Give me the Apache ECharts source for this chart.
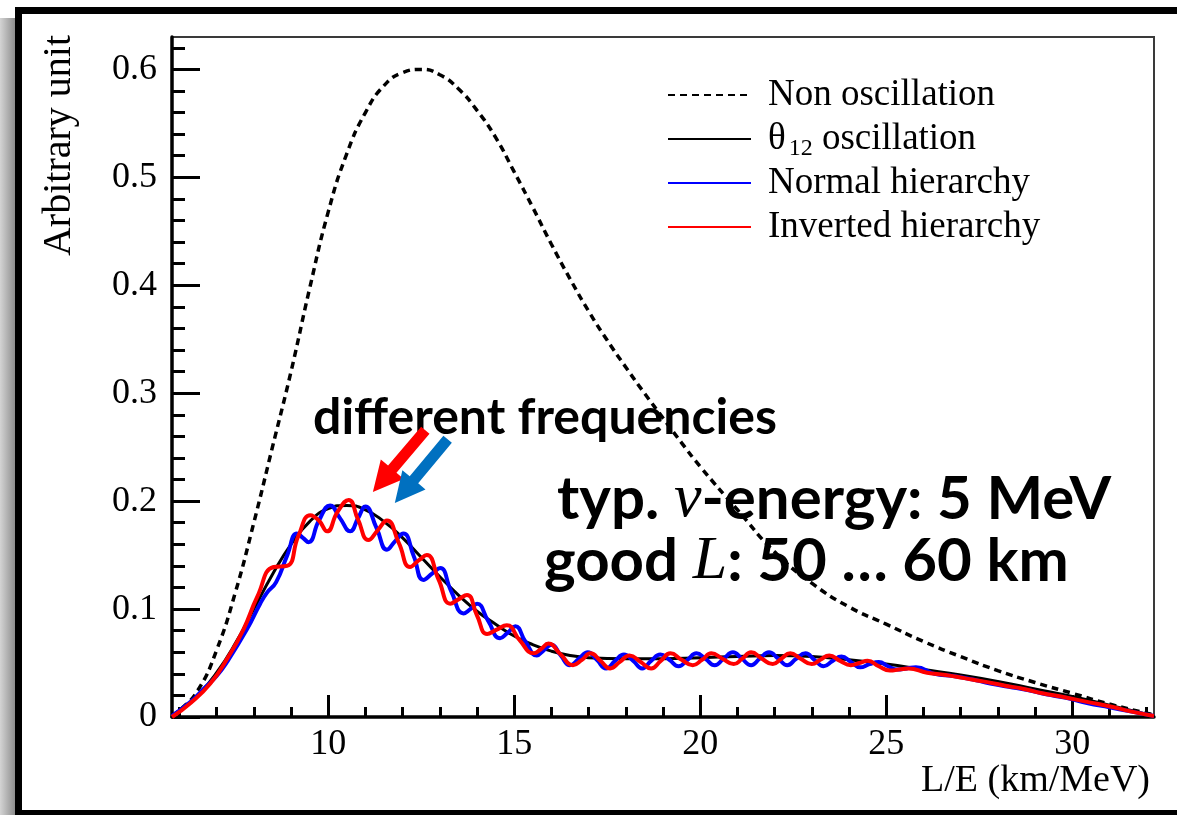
<!DOCTYPE html>
<html>
<head>
<meta charset="utf-8">
<script src="https://cdn.jsdelivr.net/npm/echarts@6.0.0/dist/echarts.min.js"></script>
<style>
html,body{margin:0;padding:0;background:#fff;}
#chart{width:1177px;height:815px;}
</style>
</head>
<body>
<div id="chart"></div>
<script>
// ---------------- data ----------------
const seriesNames = ['Non oscillation', 'θ₁₂ oscillation', 'Normal hierarchy', 'Inverted hierarchy'];
const xMajorTicks = [10, 15, 20, 25, 30];
const xMinorTicks = [6, 7, 8, 9, 11, 12, 13, 14, 16, 17, 18, 19, 21, 22, 23, 24, 26, 27, 28, 29, 31, 32];
const yMajorTicks = [0, 0.1, 0.2, 0.3, 0.4, 0.5, 0.6];
const yMinorTicks = [0.02, 0.04, 0.06, 0.08, 0.12, 0.14, 0.16, 0.18, 0.22, 0.24, 0.26, 0.28, 0.32, 0.34, 0.36, 0.38, 0.42, 0.44, 0.46, 0.48, 0.52, 0.54, 0.56, 0.58, 0.62];
const xRange = [5.8, 32.2];
const yRange = [0, 0.63];

const nonOscillation = [
  [5.8,0.002],[6.0,0.006],[6.5,0.025],[7.0,0.062],[7.5,0.115],[8.0,0.18],[8.5,0.25],[9.0,0.32],
  [9.5,0.397],[10.0,0.468],[10.5,0.522],[11.0,0.56],[11.5,0.585],[12.0,0.597],[12.5,0.6],[13.0,0.595],
  [13.5,0.582],[14.0,0.562],[14.5,0.537],[15.0,0.505],[15.5,0.472],[16.0,0.438],[16.5,0.406],[17.0,0.376],
  [17.5,0.349],[18.0,0.324],[18.5,0.3],[19.0,0.277],[19.5,0.254],[20.0,0.232],[21.0,0.192],[22.0,0.153],
  [23.0,0.124],[24.0,0.102],[25.0,0.086],[26.0,0.07],[27.0,0.056],[28.0,0.043],[29.0,0.032],[30.0,0.022],
  [31.0,0.012],[32.2,0.002]
];

const theta12Oscillation = [
  [5.8,0.001],[6.0,0.005],[6.5,0.02],[7.0,0.041],[7.5,0.068],[8.0,0.1],[8.5,0.132],[9.0,0.16],
  [9.5,0.181],[10.0,0.193],[10.5,0.196],[11.0,0.192],[11.5,0.181],[12.0,0.166],[12.5,0.148],[13.0,0.13],
  [13.5,0.113],[14.0,0.098],[14.5,0.086],[15.0,0.075],[15.5,0.067],[16.0,0.061],[16.5,0.057],[17.0,0.055],
  [18.0,0.054],[19.0,0.054],[20.0,0.055],[21.0,0.056],[22.0,0.057],[23.0,0.056],[24.0,0.053],[25.0,0.049],
  [26.0,0.044],[27.0,0.039],[28.0,0.033],[29.0,0.026],[30.0,0.019],[31.0,0.011],[32.2,0.001]
];

const normalHierarchy = [
  [5.8,0.001],[6.3,0.014],[6.65,0.026],[7.0,0.038],[7.28,0.051],[7.81,0.081],[8.17,0.105],[8.35,0.115],
  [8.6,0.125],[8.9,0.15],[9.16,0.17],[9.32,0.166],[9.47,0.162],[9.75,0.182],[10.05,0.196],[10.32,0.184],
  [10.59,0.172],[10.8,0.184],[11.0,0.195],[11.3,0.175],[11.58,0.155],[11.8,0.163],[12.02,0.17],[12.3,0.149],
  [12.56,0.127],[12.8,0.133],[13.01,0.138],[13.3,0.117],[13.64,0.096],[13.82,0.1],[14.0,0.105],[14.3,0.089],
  [14.62,0.073],[14.82,0.078],[15.03,0.084],[15.3,0.07],[15.61,0.057],[15.8,0.062],[16.0,0.067],[16.25,0.057],
  [16.5,0.048],[16.74,0.054],[16.98,0.06],[17.22,0.053],[17.47,0.045],[17.71,0.052],[17.95,0.058],[18.2,0.052],
  [18.44,0.045],[18.68,0.052],[18.93,0.058],[19.17,0.053],[19.42,0.047],[19.66,0.053],[19.9,0.059],[20.14,0.054],
  [20.39,0.048],[20.63,0.054],[20.88,0.06],[21.12,0.054],[21.37,0.048],[21.6,0.054],[21.85,0.06],[22.1,0.054],
  [22.34,0.048],[22.58,0.054],[22.83,0.059],[23.07,0.053],[23.32,0.047],[23.56,0.052],[23.8,0.056],[24.05,0.051],
  [24.3,0.046],[24.55,0.049],[24.8,0.051],[25.05,0.047],[25.3,0.044],[25.55,0.045],[25.8,0.046],[26.3,0.04],
  [26.8,0.038],[27.3,0.035],[27.8,0.031],[28.3,0.028],[28.8,0.025],[29.3,0.021],[29.8,0.018],[30.4,0.013],
  [31.0,0.009],[31.6,0.005],[32.2,0.001]
];

const invertedHierarchy = [
  [5.8,0.0],[6.3,0.013],[6.83,0.031],[7.3,0.055],[7.72,0.081],[8.1,0.112],[8.53,0.139],[8.89,0.14],
  [9.2,0.168],[9.52,0.187],[9.75,0.182],[9.97,0.172],[10.25,0.19],[10.55,0.201],[10.8,0.183],[11.08,0.164],
  [11.33,0.173],[11.58,0.182],[11.9,0.161],[12.2,0.139],[12.43,0.145],[12.65,0.15],[12.97,0.127],[13.28,0.105],
  [13.5,0.109],[13.73,0.113],[14.0,0.094],[14.27,0.077],[14.53,0.081],[14.8,0.085],[15.15,0.071],[15.52,0.059],
  [15.72,0.063],[15.92,0.068],[16.25,0.058],[16.58,0.048],[16.82,0.053],[17.05,0.059],[17.32,0.052],[17.58,0.045],
  [17.84,0.051],[18.1,0.057],[18.4,0.051],[18.68,0.045],[18.94,0.052],[19.2,0.059],[19.5,0.053],[19.8,0.048],
  [20.05,0.053],[20.3,0.059],[20.6,0.054],[20.9,0.049],[21.13,0.054],[21.37,0.06],[21.66,0.054],[21.95,0.049],
  [22.18,0.054],[22.42,0.059],[22.7,0.054],[23.0,0.049],[23.23,0.053],[23.47,0.057],[23.76,0.052],[24.05,0.048],
  [24.28,0.05],[24.5,0.052],[24.8,0.047],[25.1,0.043],[25.35,0.044],[25.6,0.045],[26.1,0.041],[26.6,0.039],
  [27.1,0.036],[27.6,0.033],[28.2,0.029],[28.7,0.026],[29.2,0.022],[29.7,0.019],[30.4,0.014],[31.0,0.01],
  [31.6,0.005],[32.2,0.001]
];

// annotation arrows, in data coordinates: [tail, tip]
const redArrow = [[12.61, 0.2657], [11.2, 0.2084]];
const blueArrow = [[13.21, 0.2574], [11.79, 0.1983]];

// ---------------- chart ----------------
const chart = echarts.init(document.getElementById('chart'), null, {renderer: 'canvas'});
const serif = '"Liberation Serif", "Times New Roman", serif';
const sans = 'Lato, "Open Sans", sans-serif';

function fmtY(v) { return v === 0 ? '0' : (Math.round(v * 10) / 10).toString(); }

const option = {
  animation: false,
  backgroundColor: '#fff',
  grid: {left: 172, right: 23, top: 37, bottom: 98, show: true, borderColor: '#3a3a3a', borderWidth: 2,
    backgroundColor: 'transparent', containLabel: false, outerBoundsMode: 'none'},
  legend: {
    orient: 'vertical', left: 667, top: 73, padding: 0, itemGap: 0, itemWidth: 83, itemHeight: 14,
    selectedMode: false, data: seriesNames,
    itemStyle: {opacity: 0},
    textStyle: {fontFamily: serif, fontSize: 37, color: '#000', lineHeight: 44, padding: [0, 0, 0, 12],
      rich: {s: {fontFamily: serif, fontSize: 24, lineHeight: 10, verticalAlign: 'bottom', color: '#000', padding: [0, 0, 0, 3]}}},
    formatter: function (name) { return name === 'θ₁₂ oscillation' ? 'θ{s|12} oscillation' : name; }
  },
  xAxis: [{
    type: 'value', min: xRange[0], max: xRange[1], position: 'bottom',
    axisLine: {onZero: false, lineStyle: {color: '#000', width: 3.5}},
    axisTick: {inside: true, length: 22, customValues: xMajorTicks, lineStyle: {color: '#000', width: 3}},
    axisLabel: {customValues: xMajorTicks, fontFamily: serif, fontSize: 36, color: '#000', margin: 10},
    splitLine: {show: false},
    name: 'L/E (km/MeV)', nameLocation: 'end', nameGap: -4, nameMoveOverlap: false,
    nameTextStyle: {fontFamily: serif, fontSize: 38, color: '#000', align: 'right', verticalAlign: 'top', padding: [45, 0, 0, 0]}
  }, {
    type: 'value', min: xRange[0], max: xRange[1], position: 'bottom',
    axisLine: {show: false, onZero: false},
    axisTick: {inside: true, length: 10, customValues: xMinorTicks, lineStyle: {color: '#000', width: 3}},
    axisLabel: {show: false}, splitLine: {show: false}
  }],
  yAxis: [{
    type: 'value', min: yRange[0], max: yRange[1], position: 'left',
    axisLine: {onZero: false, lineStyle: {color: '#000', width: 3.5}},
    axisTick: {inside: true, length: 28, customValues: yMajorTicks, lineStyle: {color: '#000', width: 3}},
    axisLabel: {customValues: yMajorTicks, formatter: fmtY, fontFamily: serif, fontSize: 36, color: '#000', margin: 15},
    splitLine: {show: false},
    name: 'Arbitrary unit', nameLocation: 'end', nameRotate: 90, nameGap: 2, nameMoveOverlap: false,
    nameTextStyle: {fontFamily: serif, fontSize: 40, color: '#000', align: 'right', verticalAlign: 'bottom', padding: [0, 0, 93, 0]}
  }, {
    type: 'value', min: yRange[0], max: yRange[1], position: 'left',
    axisLine: {show: false, onZero: false},
    axisTick: {inside: true, length: 13, customValues: yMinorTicks, lineStyle: {color: '#000', width: 3}},
    axisLabel: {show: false}, splitLine: {show: false}
  }],
  series: [
    {name: seriesNames[0], type: 'line', data: nonOscillation, symbol: 'none', showSymbol: false, smooth: true, z: 2,
      color: '#000', lineStyle: {color: '#000', width: 3.5, type: [7, 5]}},
    {name: seriesNames[1], type: 'line', data: theta12Oscillation, symbol: 'none', showSymbol: false, smooth: true, z: 3,
      color: '#000', lineStyle: {color: '#000', width: 3}},
    {name: seriesNames[2], type: 'line', data: normalHierarchy, symbol: 'none', showSymbol: false, smooth: true, z: 4,
      color: '#0000ff', lineStyle: {color: '#0000ff', width: 4}},
    {name: seriesNames[3], type: 'line', data: invertedHierarchy, symbol: 'none', showSymbol: false, smooth: true, z: 5,
      color: '#ff0000', lineStyle: {color: '#ff0000', width: 4}}
  ],
  graphic: [
    {id: 'shadow', type: 'rect', shape: {x: 0, y: 18, width: 15, height: 797}, z: 0,
      style: {fill: {type: 'linear', x: 0, y: 0, x2: 1, y2: 0, colorStops: [{offset: 0, color: '#d4d4d4'}, {offset: 1, color: '#8e8e8e'}]}}},
    {id: 'frameTop', type: 'rect', shape: {x: 15, y: 7, width: 1162, height: 7}, style: {fill: '#000'}},
    {id: 'frameLeft', type: 'rect', shape: {x: 15, y: 7, width: 7, height: 808}, style: {fill: '#000'}},
    {id: 'frameBottom', type: 'rect', shape: {x: 15, y: 810, width: 1162, height: 5}, style: {fill: '#000'}},
    {id: 'txtFreq', type: 'text', x: 313, y: 418, z: 10,
      style: {text: 'different frequencies', fontFamily: sans, fontWeight: 'bold', fontSize: 50, fill: '#000', align: 'left', verticalAlign: 'middle'}},
    {id: 'txtEnergy', type: 'text', x: 557, y: 500, z: 10,
      style: {text: 'typ. {nu|ν}-energy: 5 MeV', fontFamily: sans, fontWeight: 'bold', fontSize: 60, fill: '#000', align: 'left', verticalAlign: 'middle',
        rich: {nu: {fontFamily: serif, fontStyle: 'italic', fontWeight: 'normal', fontSize: 62, fill: '#000'}}}},
    {id: 'txtL', type: 'text', x: 544, y: 562, z: 10,
      style: {text: 'good {L|L}: 50 … 60 km', fontFamily: sans, fontWeight: 'bold', fontSize: 60, fill: '#000', align: 'left', verticalAlign: 'middle',
        rich: {L: {fontFamily: serif, fontStyle: 'italic', fontWeight: 'normal', fontSize: 62, fill: '#000'}}}}
  ]
};
chart.setOption(option);

function arrowPolygon(tail, tip, shaftHalf, headHalf, headLen) {
  const dx = tip[0] - tail[0], dy = tip[1] - tail[1];
  const len = Math.hypot(dx, dy);
  const ux = dx / len, uy = dy / len, nx = -uy, ny = ux;
  const nk = [tip[0] - ux * headLen, tip[1] - uy * headLen];
  return [
    [tail[0] + nx * shaftHalf, tail[1] + ny * shaftHalf],
    [nk[0] + nx * shaftHalf, nk[1] + ny * shaftHalf],
    [nk[0] + nx * headHalf, nk[1] + ny * headHalf],
    tip,
    [nk[0] - nx * headHalf, nk[1] - ny * headHalf],
    [nk[0] - nx * shaftHalf, nk[1] - ny * shaftHalf],
    [tail[0] - nx * shaftHalf, tail[1] - ny * shaftHalf]
  ];
}
function toPx(p) { return chart.convertToPixel({xAxisIndex: 0, yAxisIndex: 0}, p); }
const rp = arrowPolygon(toPx(redArrow[0]), toPx(redArrow[1]), 5.5, 15, 30);
const bp = arrowPolygon(toPx(blueArrow[0]), toPx(blueArrow[1]), 5.5, 15, 30);
chart.setOption({graphic: [
  {id: 'arrowRed', type: 'polygon', z: 11, shape: {points: rp}, style: {fill: '#ff0000'}},
  {id: 'arrowBlue', type: 'polygon', z: 11, shape: {points: bp}, style: {fill: '#0070c0'}}
]});
</script>
</body>
</html>
